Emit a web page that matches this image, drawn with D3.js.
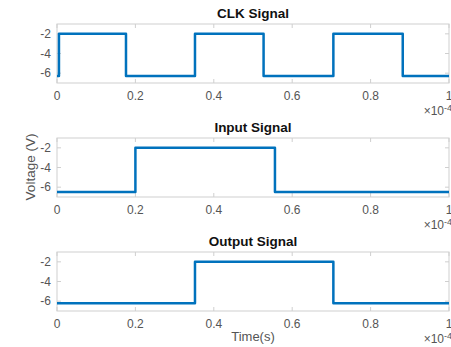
<!DOCTYPE html>
<html>
<head>
<meta charset="utf-8">
<script src="https://cdn.jsdelivr.net/npm/d3@7"></script>
<style>
  body { margin: 0; background: #fff; }
  svg { display: block; }
  text { font-family: "Liberation Sans", Arial, sans-serif; }
</style>
</head>
<body>
<div id="chart"></div>
<script>
// Step signals: each is a list of [time (×1e-4 s), voltage] breakpoints, held until the next one
const titles = ["CLK Signal", "Input Signal", "Output Signal"];
const clkSignal = [[0, -6.3], [0.005, -2], [0.176, -6.3], [0.352, -2], [0.527, -6.3], [0.705, -2], [0.882, -6.3], [1, -6.3]];
const inputSignal = [[0, -6.5], [0.2, -2], [0.556, -6.5], [1, -6.5]];
const outputSignal = [[0, -6.2], [0.352, -2], [0.705, -6.2], [1, -6.2]];
const signals = [clkSignal, inputSignal, outputSignal];
const xTicks = [0, 0.2, 0.4, 0.6, 0.8, 1];
const xTickLabels = ["0", "0.2", "0.4", "0.6", "0.8", "1"];
const yTicks = [-2, -4, -6];
const yDomain = [-7, -1];

const W = 451, H = 347;
const left = 57, right = 449;
const panelTops = [24, 138, 252];
const panelH = 59;

const svg = d3.select("#chart").append("svg").attr("width", W).attr("height", H);
const x = d3.scaleLinear().domain([0, 1]).range([left, right]);

const boxColor = "#cfcfcf", tickTextColor = "#555", lineColor = "#0072BD";

signals.forEach((data, i) => {
  const top = panelTops[i];
  const y = d3.scaleLinear().domain(yDomain).range([top + panelH, top]);
  const g = svg.append("g");

  // axes box
  g.append("rect").attr("x", left).attr("y", top).attr("width", right - left).attr("height", panelH)
    .attr("fill", "#fff").attr("stroke", boxColor).attr("stroke-width", 1);

  // inward ticks on all sides
  xTicks.forEach(t => {
    g.append("line").attr("x1", x(t)).attr("x2", x(t)).attr("y1", top + panelH).attr("y2", top + panelH - 4).attr("stroke", boxColor);
    g.append("line").attr("x1", x(t)).attr("x2", x(t)).attr("y1", top).attr("y2", top + 4).attr("stroke", boxColor);
  });
  yTicks.forEach(t => {
    g.append("line").attr("x1", left).attr("x2", left + 4).attr("y1", y(t)).attr("y2", y(t)).attr("stroke", boxColor);
    g.append("line").attr("x1", right).attr("x2", right - 4).attr("y1", y(t)).attr("y2", y(t)).attr("stroke", boxColor);
  });

  // tick labels
  g.selectAll(".xl").data(xTicks).enter().append("text")
    .attr("x", d => x(d)).attr("y", top + panelH + 17).attr("text-anchor", "middle")
    .attr("font-size", 12).attr("fill", tickTextColor).text((d, k) => xTickLabels[k]);
  g.selectAll(".yl").data(yTicks).enter().append("text")
    .attr("x", left - 6).attr("y", d => y(d) + 4).attr("text-anchor", "end")
    .attr("font-size", 12).attr("fill", tickTextColor).text(d => "-" + Math.abs(d));

  // exponent marker
  const ex = g.append("text").attr("x", W + 1).attr("y", top + panelH + 32).attr("text-anchor", "end")
    .attr("font-size", 12).attr("fill", tickTextColor);
  ex.append("tspan").text("×10");
  ex.append("tspan").attr("dy", -4).attr("font-size", 9).text("-4");

  // title
  g.append("text").attr("x", 253).attr("y", top - 6).attr("text-anchor", "middle")
    .attr("font-size", 13.5).attr("font-weight", "bold").attr("fill", "#111").text(titles[i]);

  // signal trace
  const line = d3.line().x(d => x(d[0])).y(d => y(d[1])).curve(d3.curveStepAfter);
  g.append("path").datum(data).attr("d", line).attr("fill", "none")
    .attr("stroke", lineColor).attr("stroke-width", 2.5).attr("stroke-linejoin", "round");
});

// axis labels
svg.append("text").attr("x", 253).attr("y", 341).attr("text-anchor", "middle")
  .attr("font-size", 13).attr("fill", tickTextColor).text("Time(s)");
svg.append("text").attr("transform", "translate(35,167) rotate(-90)").attr("text-anchor", "middle")
  .attr("font-size", 13.5).attr("fill", tickTextColor).text("Voltage (V)");
</script>
</body>
</html>
